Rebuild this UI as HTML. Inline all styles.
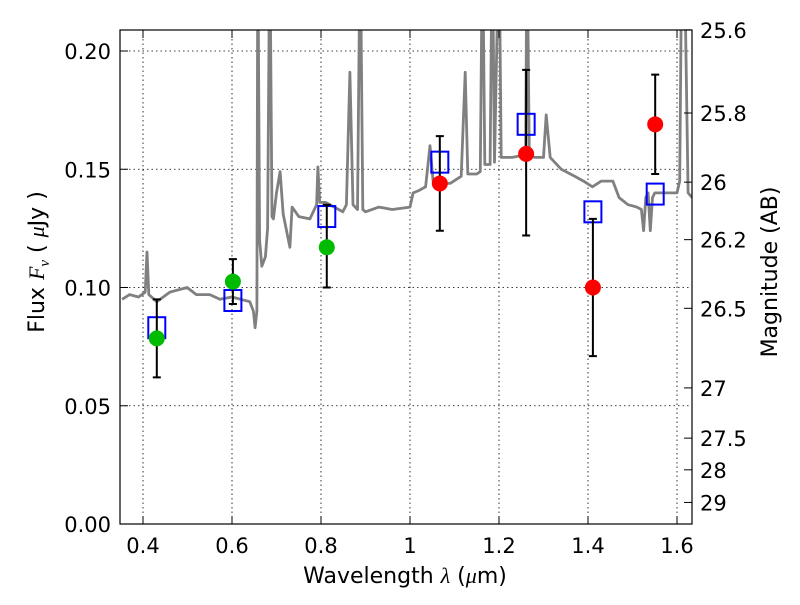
<!DOCTYPE html>
<html><head><meta charset="utf-8"><style>
body{margin:0;background:#fff;}
svg text{font-family:"DejaVu Sans","Liberation Sans",sans-serif;fill:#000;}
</style></head><body>
<svg id="chart" width="800" height="600" viewBox="0 0 800 600" xmlns="http://www.w3.org/2000/svg">
<defs><clipPath id="clip"><rect x="120" y="30" width="572" height="494"/></clipPath></defs>
<rect x="0" y="0" width="800" height="600" fill="#fff"/>
<g id="grid"></g>
<g id="spec" clip-path="url(#clip)"></g>
<g id="marks"></g>
<rect x="120" y="30" width="572" height="494" fill="none" stroke="#000" stroke-width="1.2"/>
<g id="axes"></g>
<text x="405" y="583" text-anchor="middle" font-size="22">Wavelength  <tspan font-style="italic" font-family="Liberation Serif, serif">λ</tspan> (<tspan font-style="italic" font-family="Liberation Serif, serif">μ</tspan>m)</text>
<text transform="translate(44,262) rotate(-90)" text-anchor="middle" font-size="22">Flux  <tspan font-style="italic" font-family="Liberation Serif, serif">F<tspan font-size="15" dy="5">ν</tspan></tspan><tspan dy="-5">  (  </tspan><tspan font-style="italic" font-family="Liberation Serif, serif">μ</tspan>Jy )</text>
<text transform="translate(777,272) rotate(-90)" text-anchor="middle" font-size="22">Magnitude (AB)</text>
</svg>
<script>
const specLam=[0.353,0.37,0.39,0.405,0.409,0.413,0.431,0.46,0.499,0.52,0.55,0.573,0.6,0.64,0.648,0.652,0.656,0.658,0.662,0.667,0.675,0.68,0.685,0.69,0.693,0.7,0.708,0.715,0.73,0.735,0.75,0.775,0.79,0.793,0.797,0.81,0.83,0.849,0.857,0.865,0.872,0.882,0.888,0.894,0.9,0.93,0.96,1.0,1.007,1.02,1.035,1.045,1.052,1.06,1.09,1.115,1.124,1.13,1.15,1.158,1.163,1.168,1.18,1.185,1.19,1.2,1.205,1.23,1.255,1.26,1.263,1.268,1.28,1.3,1.306,1.315,1.34,1.37,1.39,1.41,1.43,1.456,1.47,1.49,1.51,1.52,1.525,1.53,1.535,1.54,1.545,1.55,1.57,1.6,1.606,1.611,1.616,1.625,1.634];
const specF=[0.095,0.097,0.096,0.098,0.115,0.097,0.094,0.098,0.1,0.097,0.097,0.095,0.096,0.094,0.09,0.083,0.09,0.25,0.12,0.109,0.113,0.125,0.25,0.13,0.129,0.14,0.149,0.131,0.117,0.134,0.13,0.129,0.135,0.151,0.136,0.136,0.134,0.132,0.135,0.191,0.135,0.133,0.25,0.133,0.132,0.134,0.133,0.134,0.14,0.141,0.1426,0.16,0.145,0.144,0.144,0.147,0.191,0.148,0.148,0.149,0.25,0.152,0.152,0.25,0.153,0.25,0.155,0.155,0.156,0.16,0.25,0.156,0.155,0.155,0.173,0.155,0.15,0.147,0.145,0.1426,0.145,0.145,0.138,0.135,0.134,0.133,0.124,0.138,0.14,0.124,0.138,0.14,0.14,0.14,0.145,0.25,0.25,0.14,0.138];
const obsLam=[0.431,0.602,0.813,1.067,1.261,1.411,1.551];
const obsF=[0.0785,0.1025,0.117,0.144,0.1565,0.100,0.169];
const errLo=[0.062,0.093,0.100,0.124,0.122,0.071,0.148];
const errHi=[0.095,0.112,0.135,0.164,0.192,0.129,0.190];
const obsColor=['#00bb00','#00bb00','#00bb00','#ff0000','#ff0000','#ff0000','#ff0000'];
const modelF=[0.083,0.0945,0.130,0.153,0.169,0.132,0.1395];
const xTicks=[0.4,0.6,0.8,1.0,1.2,1.4,1.6];
const xTickLabels=['0.4','0.6','0.8','1','1.2','1.4','1.6'];
const yTicks=[0,0.05,0.10,0.15,0.20];
const yTickLabels=['0.00','0.05','0.10','0.15','0.20'];
const magTicks=[25.6,25.8,26,26.2,26.5,27,27.5,28,29];
const magTickLabels=['25.6','25.8','26','26.2','26.5','27','27.5','28','29'];

const NS='http://www.w3.org/2000/svg';
function X(l){return 143+(l-0.4)*445;}
function Y(f){return 524-f*2365;}
function magToF(m){return Math.pow(10,(23.9-m)/2.5);}
function mk(tag,attrs,parent){const e=document.createElementNS(NS,tag);for(const k in attrs)e.setAttribute(k,attrs[k]);parent.appendChild(e);return e;}
const grid=document.getElementById('grid'),spec=document.getElementById('spec'),marks=document.getElementById('marks'),axes=document.getElementById('axes');

xTicks.forEach((t,i)=>{
  const g=mk('line',{x1:X(t),x2:X(t),y1:30,y2:524,stroke:'#000','stroke-width':0.8,'stroke-dasharray':'1.5,3'},grid);
  
  
  mk('line',{x1:X(t),x2:X(t),y1:524,y2:516,stroke:'#000'},axes);
  mk('line',{x1:X(t),x2:X(t),y1:30,y2:38,stroke:'#000'},axes);
  const tx=mk('text',{x:X(t),y:553,'text-anchor':'middle','font-size':21},axes);
  tx.textContent=xTickLabels[i];
  
  
});
yTicks.forEach((t,i)=>{
  if(t>0){const g=mk('line',{x1:120,x2:692,y1:Y(t),y2:Y(t),stroke:'#000','stroke-width':0.8,'stroke-dasharray':'1.5,3'},grid);
  
  }
  mk('line',{x1:120,x2:128,y1:Y(t),y2:Y(t),stroke:'#000'},axes);
  const tx=mk('text',{x:111,y:Y(t)+8,'text-anchor':'end','font-size':21},axes);
  tx.textContent=yTickLabels[i];
  
  
});
magTicks.forEach((m,i)=>{
  const y=Y(magToF(m));
  mk('line',{x1:692,x2:684,y1:y,y2:y,stroke:'#000'},axes);
  const tx=mk('text',{x:700,y:y+8,'text-anchor':'start','font-size':21},axes);
  tx.textContent=magTickLabels[i];
  
  
});
const pts=specLam.map((l,i)=>X(l).toFixed(1)+','+Y(specF[i]).toFixed(1)).join(' ');
const pl=mk('polyline',{points:pts,fill:'none',stroke:'#808080','stroke-width':2.8,'stroke-linejoin':'round'},spec);


obsLam.forEach((l,i)=>{
  const x=X(l);
  const r=mk('rect',{x:x-8.5,y:Y(modelF[i])-10.5,width:17,height:21,fill:'none',stroke:'#0000ff','stroke-width':2},marks);
  
  
  const e=mk('path',{d:`M${x},${Y(errLo[i])}V${Y(errHi[i])}M${x-4},${Y(errLo[i])}h8M${x-4},${Y(errHi[i])}h8`,stroke:'#000','stroke-width':2,fill:'none'},marks);
  
  
  const c=mk('circle',{cx:x,cy:Y(obsF[i]),r:8,fill:obsColor[i]},marks);
  
  
});
</script>
</body></html>
